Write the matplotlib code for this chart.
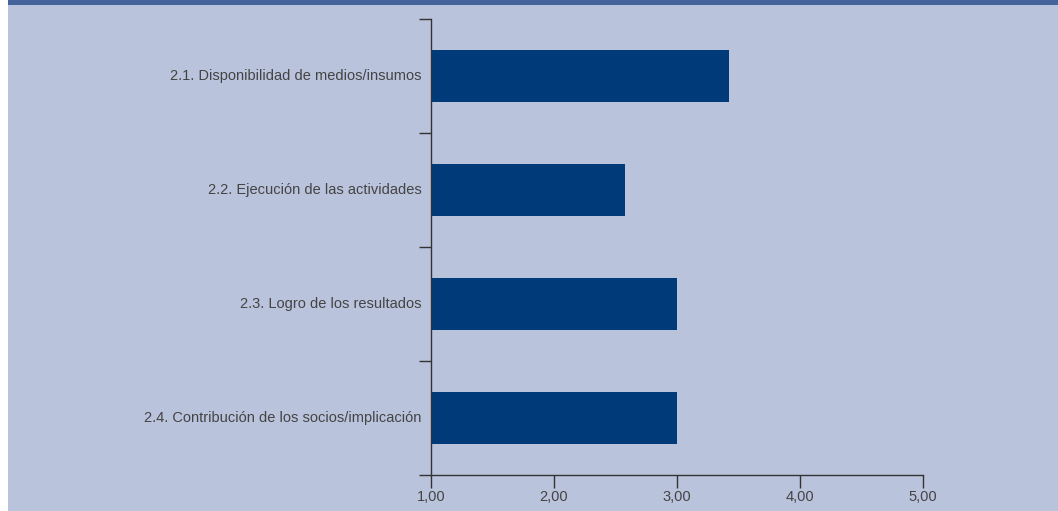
import matplotlib
matplotlib.use("Agg")
import matplotlib.pyplot as plt
from matplotlib.patches import Rectangle

categories = [
    "2.1. Disponibilidad de medios/insumos",
    "2.2. Ejecución de las actividades",
    "2.3. Logro de los resultados",
    "2.4. Contribución de los socios/implicación",
]
values = [3.42, 2.58, 3.00, 3.00]
xticks = [1, 2, 3, 4, 5]
xtick_labels = ["1,00", "2,00", "3,00", "4,00", "5,00"]

bg = "#bac3dc"
bar_color = "#003a78"
axis_color = "#333333"
text_color = "#444444"

plt.rcParams["font.family"] = ["Liberation Sans", "DejaVu Sans"]

fig = plt.figure(figsize=(10.58, 5.11), dpi=100)
fig.patch.set_facecolor("white")
fig.patches.append(Rectangle((8 / 1058, 0), 1, 1, transform=fig.transFigure,
                             facecolor=bg, edgecolor="none", zorder=-2))
fig.patches.append(Rectangle((8 / 1058, 1 - 5 / 511), 1, 5 / 511, transform=fig.transFigure,
                             facecolor="#44639b", edgecolor="none", zorder=-1))

ax = fig.add_axes([431 / 1058, 1 - 475 / 511, 492 / 1058, 456 / 511])
ax.set_facecolor("none")

n = len(categories)
centers = [n - i - 0.5 for i in range(n)]
ax.barh(centers, [v - 1 for v in values], left=1, height=0.46, color=bar_color)

ax.set_xlim(1, 5)
ax.set_ylim(0, n)
ax.set_xticks(xticks)
ax.set_xticklabels(xtick_labels)
ax.set_yticks(range(n + 1))
ax.set_yticklabels([])
ax.set_yticks([c + 0.01 for c in centers], minor=True)
ax.set_yticklabels(categories, minor=True)

ax.tick_params(axis="y", which="major", length=9, width=1, color=axis_color, direction="out")
ax.tick_params(axis="y", which="minor", length=0, pad=7, labelsize=10.5, labelcolor=text_color)
ax.tick_params(axis="x", length=9, width=1, color=axis_color, pad=2,
               labelsize=10.5, labelcolor=text_color)

for s in ["top", "right"]:
    ax.spines[s].set_visible(False)
for s in ["left", "bottom"]:
    ax.spines[s].set_color(axis_color)
    ax.spines[s].set_linewidth(1)

fig.savefig("out.png", dpi=100, facecolor=fig.get_facecolor())
